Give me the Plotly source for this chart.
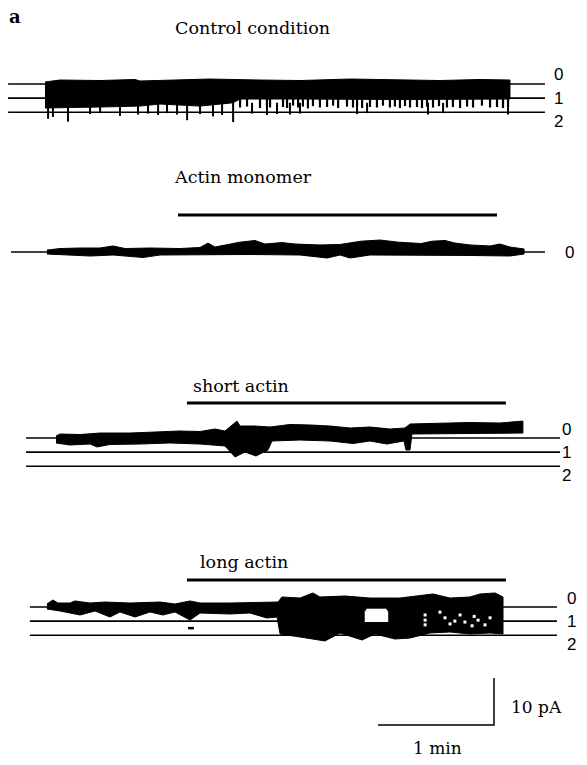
import plotly.graph_objects as go

# ------------------------------------------------------------------
# DATA  (time in s, current in pA; 0 pA = closed level, openings downward)
# ------------------------------------------------------------------
UNIT_PA = 3.0                      # unitary current step between levels
CTRL_LEVELS = [0, 1, 2]
MONO_LEVELS = [0]
SHORT_LEVELS = [0, 1, 2]
LONG_LEVELS = [0, 1, 2]
LEVEL_LABELS = ["0", "1", "2"]

PANEL_TITLES = ["Control condition", "Actin monomer", "short actin", "long actin"]
PANEL_LETTER = "a"

# extent of the drawn level (baseline) lines, s
CTRL_SPAN = (-19.1, 258.6)
MONO_SPAN = (-17.6, 258.6)
SHORT_SPAN = (-9.8, 266.4)
LONG_SPAN = (-7.8, 264.8)

# drug application bars, s
MONO_BAR = (68.8, 233.8)
SHORT_BAR = (73.4, 238.4)
LONG_BAR = (73.4, 238.4)

# --- control trace envelope
CTRL_TOP_T = [0.0, 7.8, 28.4, 46.6, 49.1, 64.7, 85.3, 111.2, 131.9, 157.8, 183.6, 204.3, 225.0, 240.5]
CTRL_TOP_I = [0.43, 0.85, 0.74, 0.96, 0.64, 0.85, 1.06, 0.85, 0.74, 1.06, 0.85, 0.74, 0.96, 0.85]
CTRL_BOT_T = [0.0, 28.4, 49.1, 59.5, 80.2, 97.2, 100.9, 131.9, 183.6, 240.5]
CTRL_BOT_I = [-5.1, -4.9, -4.7, -4.26, -4.7, -4.0, -3.2, -3.2, -3.3, -3.2]
# brief openings (comb) in the second half of control
CTRL_COMB_T = [100.9, 104.5, 111.2, 114.8, 116.4, 123.1, 125.2, 128.3, 130.9, 133.4, 136.0,
               138.6, 142.2, 145.9, 149.0, 151.6, 156.2, 159.3, 161.4, 164.0, 168.1, 171.7,
               174.8, 178.4, 181.0, 183.6, 186.2, 188.8, 192.4, 195.0, 197.6, 200.7, 203.8,
               207.9, 211.0, 214.7, 218.3, 221.4, 226.0, 230.2, 233.8, 236.9, 239.5]
CTRL_COMB_I = [-5.0, -4.8, -5.1, -4.7, -5.0, -4.9, -5.1, -4.6, -5.0, -4.8, -5.2,
               -4.7, -5.0, -4.9, -4.6, -5.1, -4.8, -5.0, -4.7, -5.1, -4.9, -5.0,
               -4.6, -5.0, -4.8, -5.1, -4.7, -5.0, -4.9, -5.1, -4.8, -5.0, -4.7,
               -5.0, -4.9, -5.1, -4.8, -5.0, -4.6, -5.0, -4.9, -5.1, -4.8]
# deep downward spikes (double openings)
CTRL_SPIKE_T = [1.6, 4.1, 11.9, 23.3, 28.5, 38.8, 48.1, 53.3, 58.5, 63.1, 68.3, 73.5, 80.2,
                86.9, 91.6, 97.3, 107.1, 114.8, 120.0, 126.7, 131.9, 161.4, 166.6, 198.1, 205.9, 239.5]
CTRL_SPIKE_I = [-7.4, -7.0, -8.0, -6.4, -6.2, -6.8, -6.5, -6.3, -6.6, -6.2, -6.5, -7.7, -6.4,
                -6.9, -6.6, -8.1, -6.3, -6.6, -6.4, -6.5, -6.3, -6.4, -6.2, -6.5, -6.2, -6.5]

# --- actin monomer trace envelope
MONO_TOP_T = [1.0, 7.8, 18.1, 28.4, 35.2, 41.4, 54.3, 69.8, 80.2, 84.3, 87.9, 100.9, 108.6, 113.8,
              122.6, 129.3, 142.2, 152.6, 163.4, 173.3, 182.6, 188.8, 194.5, 200.2, 206.9, 212.1,
              219.8, 230.2, 235.3, 240.5, 247.8]
MONO_TOP_I = [0.4, 0.74, 0.85, 0.85, 1.28, 0.74, 0.85, 0.74, 0.96, 1.9, 1.06, 2.1, 2.45, 1.7,
              2.0, 1.7, 1.5, 1.6, 2.3, 2.55, 2.1, 1.9, 1.8, 2.3, 2.45, 1.9,
              1.5, 1.28, 1.7, 1.06, 0.64]
MONO_BOT_T = [1.0, 12.9, 23.3, 35.2, 50.7, 59.5, 80.2, 106.0, 131.9, 145.9, 152.6, 157.8, 168.1,
              194.0, 219.8, 240.5, 247.8]
MONO_BOT_I = [-0.43, -0.64, -0.85, -0.64, -1.17, -0.64, -0.64, -0.53, -0.64, -1.28, -0.64, -1.28,
              -0.64, -0.64, -0.74, -0.85, -0.43]

# --- short actin trace envelope
SHORT_TOP_T = [5.7, 7.8, 18.1, 28.4, 44.0, 54.3, 69.8, 80.2, 87.9, 93.1, 97.2, 99.3, 100.9, 108.6,
               116.4, 121.6, 126.7, 137.1, 147.4, 157.8, 168.1, 178.4, 186.2, 188.8, 204.3, 219.8,
               235.3, 243.1, 247.2]
SHORT_TOP_I = [0.43, 0.85, 0.74, 1.06, 1.06, 1.28, 1.49, 1.38, 1.91, 1.49, 2.77, 3.6, 2.55, 2.55,
               2.34, 2.55, 2.87, 2.77, 2.55, 2.13, 2.34, 1.91, 2.13, 2.98, 3.19, 3.3,
               3.19, 3.4, 3.6]
SHORT_BOT_T = [5.7, 12.9, 23.3, 26.9, 33.6, 49.1, 64.7, 80.2, 93.1, 98.3, 103.4, 109.1, 115.3, 117.4,
               131.9, 147.4, 159.3, 168.1, 176.9, 185.7, 186.7, 188.8, 189.8, 209.5, 230.2, 247.2]
SHORT_BOT_I = [-1.06, -1.49, -1.28, -1.91, -1.38, -1.28, -1.06, -1.28, -1.7, -4.04, -2.98, -3.83,
               -2.55, -0.64, -0.43, -0.64, -1.17, -0.64, -1.28, -0.64, -2.55, -2.55, 0.85, 0.85,
               0.96, 1.06]

# --- long actin trace envelope
LONG_TOP_T = [1.0, 4.1, 6.7, 12.9, 15.5, 23.3, 31.0, 44.0, 59.5, 67.2, 75.0, 80.2, 95.7, 111.2,
              120.5, 122.6, 131.9, 138.6, 142.2, 155.2, 168.1, 183.6, 200.7, 209.5, 219.8, 225.0,
              232.8, 236.9]
LONG_TOP_I = [0.64, 1.49, 0.85, 0.85, 1.28, 0.85, 1.06, 0.85, 1.06, 0.64, 1.28, 0.85, 0.85, 0.96,
              1.06, 2.13, 1.91, 2.98, 2.13, 2.34, 1.91, 1.91, 2.77, 1.91, 2.13, 2.77,
              2.98, 2.13]
LONG_BOT_T = [1.0, 7.8, 18.1, 25.9, 33.6, 38.8, 46.6, 54.3, 61.0, 67.2, 75.0, 80.2, 95.7, 106.0,
              114.8, 120.0, 121.6, 131.9, 144.8, 152.6, 164.0, 170.7, 181.0, 188.8, 199.1, 209.5,
              219.8, 230.2, 236.9]
LONG_BOT_I = [-0.43, -0.85, -1.7, -0.85, -2.13, -1.06, -2.13, -1.06, -1.7, -1.06, -2.77, -1.28,
              -1.49, -1.28, -2.34, -2.13, -5.74, -6.38, -7.23, -5.53, -7.02, -5.74, -6.81, -6.6,
              -5.53, -5.32, -5.74, -5.53, -5.74]
# sustained single-level gap inside the dense burst
LONG_GAP_T = [165.5, 165.5, 166.5, 176.4, 177.4, 177.4]
LONG_GAP_I = [-3.2, -1.0, -0.4, -0.4, -1.0, -3.2]
# isolated level-1 dwell points inside the burst
LONG_DOT_T = [196.6, 196.6, 196.6, 204.3, 206.9, 209.5, 212.0, 214.7, 217.2, 220.9, 222.0, 224.0, 227.6, 230.2]
LONG_DOT_I = [-1.7, -2.8, -3.8, -1.1, -2.3, -3.6, -3.0, -1.7, -3.2, -4.0, -2.0, -2.8, -3.8, -2.3]
LONG_BLIP_T = [74.0, 77.0]
LONG_BLIP_I = [-4.5, -4.5]

# calibration
SCALE_T_S = 60          # 1 min
SCALE_I_PA = 10         # 10 pA
SCALE_LABELS = ["10 pA", "1 min"]

# ------------------------------------------------------------------
# LAYOUT (pixels of the 587 x 765 page)
# ------------------------------------------------------------------
W, H = 587, 765
PX_PER_S = 116 / 60
PX_PER_PA = 4.7
X0_PX = 45                       # where t = 0 lies

BASE_PX = {"y": 84, "y2": 252, "y3": 438, "y4": 607, "y5": 725}
BAR_PX = {"y2": 215, "y3": 403, "y4": 580}
TITLE_POS = [(252, 28), (243, 177), (241, 386), (244, 562)]
LABEL_X = {"y": 558, "y2": 569, "y3": 566, "y4": 571}
SCALE_END_PX = 494
SCALE_LABEL_POS = [(536, 707), (437, 748)]

SERIF = "DejaVu Serif"
SANS = "Liberation Sans"


def yrange(base_px):
    return [-(H - base_px) / PX_PER_PA, base_px / PX_PER_PA]


def band(t_top, i_top, t_bot, i_bot, axis, color="black"):
    x = list(t_top) + list(reversed(t_bot))
    y = list(i_top) + list(reversed(i_bot))
    return go.Scatter(x=x, y=y, mode="lines", fill="toself", fillcolor=color,
                      line=dict(color=color, width=1), yaxis=axis,
                      hoverinfo="skip", showlegend=False)


def segments(ts, i0s, i1s, axis, width, color="black"):
    x, y = [], []
    for t, a, b in zip(ts, i0s, i1s):
        x += [t, t, None]
        y += [a, b, None]
    return go.Scatter(x=x, y=y, mode="lines", line=dict(color=color, width=width),
                      yaxis=axis, hoverinfo="skip", showlegend=False)


def level_lines(levels, span, axis):
    x, y = [], []
    for k in levels:
        x += [span[0], span[1], None]
        y += [-k * UNIT_PA, -k * UNIT_PA, None]
    return go.Scatter(x=x, y=y, mode="lines", line=dict(color="black", width=1.6),
                      yaxis=axis, hoverinfo="skip", showlegend=False)


def bar(span, axis):
    v = (BASE_PX[axis] - BAR_PX[axis]) / PX_PER_PA
    return go.Scatter(x=[span[0], span[1]], y=[v, v], mode="lines",
                      line=dict(color="black", width=3.2), yaxis=axis,
                      hoverinfo="skip", showlegend=False)


fig = go.Figure()

# level lines
fig.add_trace(level_lines(CTRL_LEVELS, CTRL_SPAN, "y"))
fig.add_trace(level_lines(MONO_LEVELS, MONO_SPAN, "y2"))
fig.add_trace(level_lines(SHORT_LEVELS, SHORT_SPAN, "y3"))
fig.add_trace(level_lines(LONG_LEVELS, LONG_SPAN, "y4"))

# control
fig.add_trace(band(CTRL_TOP_T, CTRL_TOP_I, CTRL_BOT_T, CTRL_BOT_I, "y"))
fig.add_trace(segments(CTRL_COMB_T, [-3.0] * len(CTRL_COMB_T), CTRL_COMB_I, "y", 2.2))
fig.add_trace(segments(CTRL_SPIKE_T, [-4.0] * len(CTRL_SPIKE_T), CTRL_SPIKE_I, "y", 2.0))

# actin monomer
fig.add_trace(bar(MONO_BAR, "y2"))
fig.add_trace(band(MONO_TOP_T, MONO_TOP_I, MONO_BOT_T, MONO_BOT_I, "y2"))

# short actin
fig.add_trace(bar(SHORT_BAR, "y3"))
fig.add_trace(band(SHORT_TOP_T, SHORT_TOP_I, SHORT_BOT_T, SHORT_BOT_I, "y3"))

# long actin
fig.add_trace(bar(LONG_BAR, "y4"))
fig.add_trace(band(LONG_TOP_T, LONG_TOP_I, LONG_BOT_T, LONG_BOT_I, "y4"))
fig.add_trace(go.Scatter(x=LONG_GAP_T, y=LONG_GAP_I, mode="lines", fill="toself",
                         fillcolor="white", line=dict(color="white", width=0.5),
                         yaxis="y4", hoverinfo="skip", showlegend=False))
fig.add_trace(go.Scatter(x=LONG_DOT_T, y=LONG_DOT_I, mode="markers",
                         marker=dict(color="white", size=3, symbol="square"),
                         yaxis="y4", hoverinfo="skip", showlegend=False))
fig.add_trace(go.Scatter(x=LONG_BLIP_T, y=LONG_BLIP_I, mode="lines",
                         line=dict(color="black", width=2.5),
                         yaxis="y4", hoverinfo="skip", showlegend=False))

# calibration bars
t_end = (SCALE_END_PX - X0_PX) / PX_PER_S
fig.add_trace(go.Scatter(x=[t_end - SCALE_T_S, t_end, t_end], y=[0, 0, SCALE_I_PA],
                         mode="lines", line=dict(color="black", width=1.5),
                         yaxis="y5", hoverinfo="skip", showlegend=False))

# axes
xr = [-X0_PX / PX_PER_S, (W - X0_PX) / PX_PER_S]
layout_axes = dict(xaxis=dict(range=xr, visible=False, domain=[0, 1], fixedrange=True))
for i, ax in enumerate(["y", "y2", "y3", "y4", "y5"]):
    key = "yaxis" if ax == "y" else "yaxis" + ax[1:]
    d = dict(range=yrange(BASE_PX[ax]), visible=False, domain=[0, 1], fixedrange=True)
    if ax != "y":
        d["overlaying"] = "y"
    layout_axes[key] = d


def px_ann(text, xpx, ypx, font, size, bold=False, xanchor="center"):
    return dict(text=("<b>%s</b>" % text) if bold else text, x=xpx / W, y=1 - ypx / H,
                xref="paper", yref="paper", showarrow=False, xanchor=xanchor,
                yanchor="middle", font=dict(family=font, size=size, color="black"))


anns = [px_ann(PANEL_LETTER, 15, 16, SERIF, 18, bold=True)]
for title, (xp, yp) in zip(PANEL_TITLES, TITLE_POS):
    anns.append(px_ann(title, xp, yp, SERIF, 17.5))

LABEL_OFFSET = {0: -9, 1: 0, 2: 9}
for ax, levels in [("y", CTRL_LEVELS), ("y3", SHORT_LEVELS), ("y4", LONG_LEVELS)]:
    for k in levels:
        ypx = BASE_PX[ax] + k * UNIT_PA * PX_PER_PA + LABEL_OFFSET[k]
        anns.append(px_ann(LEVEL_LABELS[k], LABEL_X[ax], ypx, SANS, 17))
anns.append(px_ann(LEVEL_LABELS[0], LABEL_X["y2"], BASE_PX["y2"] + 1, SANS, 17))

for lab, (xp, yp) in zip(SCALE_LABELS, SCALE_LABEL_POS):
    anns.append(px_ann(lab, xp, yp, SERIF, 17))

fig.update_layout(width=W, height=H, margin=dict(l=0, r=0, t=0, b=0),
                  paper_bgcolor="white", plot_bgcolor="white",
                  showlegend=False, annotations=anns, **layout_axes)

fig.write_html("out.html", config={"displayModeBar": False},
               post_script="document.body.style.margin='0';")
